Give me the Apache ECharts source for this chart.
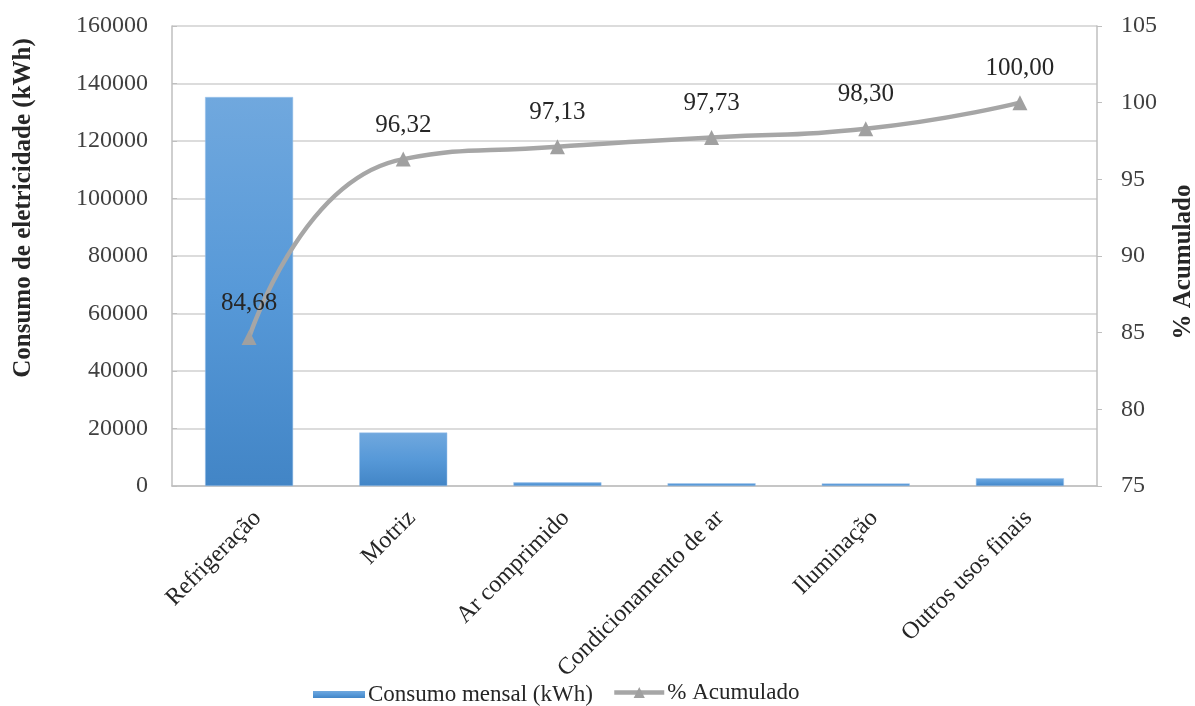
<!DOCTYPE html>
<html>
<head>
<meta charset="utf-8">
<script src="https://cdn.jsdelivr.net/npm/echarts@6/dist/echarts.min.js"></script>
<style>
  html, body { margin: 0; padding: 0; background: #fff; }
  #chart { width: 1195px; height: 706px; }
</style>
</head>
<body>
<div id="chart"></div>
<script>
// Usos finais de energia elétrica e consumo mensal (kWh)
const categories = ['Refrigeração', 'Motriz', 'Ar comprimido', 'Condicionamento de ar', 'Iluminação', 'Outros usos finais'];
const consumo = [135300, 18597, 1294, 959, 911, 2716];
const acumulado = [84.68, 96.32, 97.13, 97.73, 98.30, 100.00];

const FONT = '"Liberation Serif", "Times New Roman", serif';
const TEXT = '#262626';

const chart = echarts.init(document.getElementById('chart'));
chart.setOption({
  backgroundColor: '#ffffff',
  textStyle: { fontFamily: FONT },
  grid: { left: 172, right: 98, top: 26, bottom: 220, containLabel: false, outerBoundsMode: 'none' },
  legend: [
    {
      data: ['Consumo mensal (kWh)'],
      left: 313, top: 683, padding: 0,
      itemWidth: 52, itemHeight: 7, itemGap: 4,
      icon: 'rect',
      itemStyle: { borderWidth: 0 },
      textStyle: { fontFamily: FONT, fontSize: 23, color: TEXT, padding: [0, 0, 0, -2] }
    },
    {
      data: ['% Acumulado'],
      left: 612, top: 681, padding: 0,
      itemWidth: 50, itemHeight: 14, itemGap: 4,
      lineStyle: { width: 4.5, color: '#a6a6a6' },
      itemStyle: { color: '#a0a0a0' },
      textStyle: { fontFamily: FONT, fontSize: 23, color: TEXT, padding: [0, 0, 0, -2] }
    }
  ],
  xAxis: {
    type: 'category',
    data: categories,
    axisLine: { lineStyle: { color: '#bfbfbf', width: 1.5 } },
    axisTick: { show: false },
    axisLabel: {
      rotate: 45, margin: 20, interval: 0, verticalAlign: 'top',
      fontFamily: FONT, fontSize: 24, color: TEXT
    }
  },
  yAxis: [
    {
      type: 'value', min: 0, max: 160000, interval: 20000,
      name: 'Consumo de eletricidade (kWh)',
      nameLocation: 'middle', nameRotate: 90, nameGap: 136,
      nameTextStyle: { fontFamily: FONT, fontSize: 25, fontWeight: 'bold', color: TEXT, padding: [0, 0, 0, 96] },
      axisLine: { show: true, lineStyle: { color: '#bfbfbf', width: 1.5 } },
      axisTick: { show: true, inside: true, length: 5, lineStyle: { color: '#bfbfbf' } },
      axisLabel: { fontFamily: FONT, fontSize: 24, color: '#404040', margin: 24, formatter: v => String(v) },
      splitLine: { show: true, lineStyle: { color: '#d0d0d0', width: 1.5 } }
    },
    {
      type: 'value', min: 75, max: 105, interval: 5,
      name: '% Acumulado',
      nameLocation: 'middle', nameRotate: 90, nameGap: 74,
      nameTextStyle: { fontFamily: FONT, fontSize: 25, fontWeight: 'bold', color: TEXT, padding: [0, 12, 0, 0] },
      axisLine: { show: true, lineStyle: { color: '#bfbfbf', width: 1.5 } },
      axisTick: { show: true, length: 5, lineStyle: { color: '#bfbfbf' } },
      axisLabel: { fontFamily: FONT, fontSize: 24, color: '#404040', margin: 24 },
      splitLine: { show: false }
    }
  ],
  series: [
    {
      name: 'Consumo mensal (kWh)',
      type: 'bar',
      yAxisIndex: 0,
      data: consumo,
      barWidth: 88,
      itemStyle: {
        color: new echarts.graphic.LinearGradient(0, 0, 0, 1, [
          { offset: 0, color: '#70a8de' },
          { offset: 0.5, color: '#5799d8' },
          { offset: 1, color: '#4285c6' }
        ]),
        borderColor: '#9cc3ea', borderWidth: 0.5
      }
    },
    {
      name: '% Acumulado',
      type: 'line',
      yAxisIndex: 1,
      data: acumulado,
      smooth: 0.55,
      symbol: 'triangle',
      symbolSize: 15,
      lineStyle: { color: '#a6a6a6', width: 4.5 },
      itemStyle: { color: '#a0a0a0' },
      label: {
        show: true, position: 'top', distance: 14,
        fontFamily: FONT, fontSize: 25, color: TEXT,
        formatter: p => p.value.toFixed(2).replace('.', ',')
      },
      z: 5
    }
  ]
});
</script>
</body>
</html>
